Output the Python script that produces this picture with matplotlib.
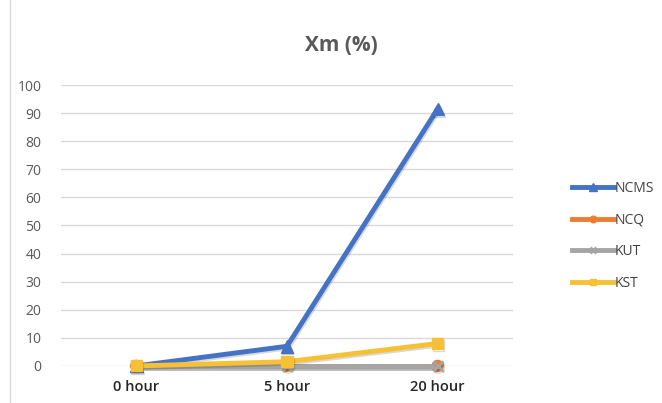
import matplotlib.pyplot as plt
import matplotlib.patheffects as pe
from matplotlib.patches import Rectangle

plt.rcParams['font.family'] = ['Open Sans', 'DejaVu Sans']

hours = ['0 hour', '5 hour', '20 hour']
ncms = [0, 7, 91.5]
ncq = [0, 0, 0]
kut = [0, 0, 0]
kst = [0, 1.5, 8]

series = [
    ('NCMS', ncms, '#4472C4', '^', 9),
    ('NCQ', ncq, '#ED7D31', 'o', 8),
    ('KUT', kut, '#A5A5A5', 'x', 7),
    ('KST', kst, '#F7C136', 's', 8),
]

fig = plt.figure(figsize=(6.62, 4.03), dpi=100)
ax = fig.add_axes([0.092, 0.092, 0.683, 0.697])

x = range(len(hours))
shadow = [pe.SimpleLineShadow(offset=(0.8, -1.2), alpha=0.15), pe.Normal()]
for name, vals, color, marker, ms in series:
    ax.plot(x, vals, color=color, lw=3.5, marker=marker, ms=ms,
            mew=2 if marker == 'x' else 1, mec=color, label=name,
            path_effects=shadow, solid_joinstyle='round', clip_on=False)

ax.set_xlim(-0.5, 2.5)
ax.set_ylim(0, 100)
ax.set_yticks(range(0, 101, 10))
ax.set_xticks(list(x))
ax.set_xticklabels(hours, fontsize=10.5, color='#262626', fontweight='semibold')
ax.tick_params(axis='y', labelsize=10, colors='#595959', length=0, pad=14)
ax.tick_params(axis='x', length=0, pad=10)
ax.grid(axis='y', color='#D9D9D9', lw=1)
ax.set_axisbelow(True)
for s in ax.spines.values():
    s.set_visible(False)

fig.text(0.515, 0.888, 'Xm (%)', ha='center', va='center', fontsize=15,
         fontweight='bold', color='#595959')

leg = ax.legend(loc='center left', bbox_to_anchor=(1.115, 0.463), frameon=False,
                fontsize=10, labelspacing=1.2, handlelength=3.0,
                handletextpad=0.1, borderpad=0, markerscale=0.6)
for t in leg.get_texts():
    t.set_color('#404040')
for h in leg.legend_handles:
    h.set_path_effects([])

# thin chart border
fig.patches.append(Rectangle((0.015, -0.01), 1.0, 1.02, transform=fig.transFigure,
                             fill=False, ec='#D9D9D9', lw=1))

fig.savefig('out.png', dpi=100)
